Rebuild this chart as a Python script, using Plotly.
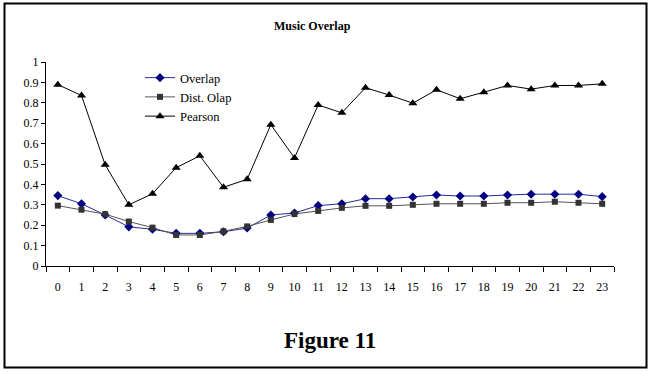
import plotly.graph_objects as go

hours = [str(h) for h in range(24)]

overlap = [0.345, 0.305, 0.25, 0.192, 0.18, 0.16, 0.16, 0.168, 0.186, 0.25, 0.26, 0.296,
           0.305, 0.33, 0.33, 0.338, 0.348, 0.343, 0.343, 0.348, 0.352, 0.352, 0.352, 0.34]
dist_olap = [0.296, 0.276, 0.254, 0.218, 0.188, 0.152, 0.152, 0.17, 0.194, 0.226, 0.255, 0.27,
             0.285, 0.295, 0.295, 0.30, 0.305, 0.305, 0.305, 0.31, 0.31, 0.315, 0.31, 0.305]
pearson = [0.889, 0.836, 0.496, 0.300, 0.354, 0.482, 0.540, 0.386, 0.425, 0.693, 0.530, 0.789,
           0.751, 0.874, 0.838, 0.798, 0.864, 0.820, 0.852, 0.885, 0.867, 0.885, 0.885, 0.893]

y_ticks = [0, 0.1, 0.2, 0.3, 0.4, 0.5, 0.6, 0.7, 0.8, 0.9, 1]
y_ticklabels = ["0", "0.1", "0.2", "0.3", "0.4", "0.5", "0.6", "0.7", "0.8", "0.9", "1"]

FONT = "Liberation Serif"

fig = go.Figure()
fig.add_trace(go.Scatter(x=hours, y=overlap, name="Overlap", mode="lines+markers",
                         line=dict(color="#2a2a99", width=1),
                         marker=dict(symbol="diamond", size=7, color="#000080")))
fig.add_trace(go.Scatter(x=hours, y=dist_olap, name="Dist. Olap", mode="lines+markers",
                         line=dict(color="#555555", width=1),
                         marker=dict(symbol="square", size=6, color="#333333")))
fig.add_trace(go.Scatter(x=hours, y=pearson, name="Pearson", mode="lines+markers",
                         line=dict(color="#000000", width=1),
                         marker=dict(symbol="triangle-up", size=8, color="#000000")))

L, R, T, B = 46, 36, 62, 106
W, H = 650, 372
pw, ph = W - L - R, H - T - B

def px(x):
    return (x - L) / pw

def py(y):
    return (H - B - y) / ph

fig.update_layout(
    width=W, height=H,
    margin=dict(l=L, r=R, t=T, b=B, autoexpand=False),
    paper_bgcolor="white", plot_bgcolor="white",
    font=dict(family=FONT, size=12, color="black"),
    showlegend=True,
    legend=dict(x=px(140), y=py(63), xanchor="left", yanchor="top",
                bgcolor="rgba(0,0,0,0)", font=dict(family=FONT, size=12.5),
                tracegroupgap=0, itemwidth=30),
    xaxis=dict(type="category", range=[-0.5, len(hours) - 0.5], autorange=False,
               showgrid=False, zeroline=False, showline=True,
               linecolor="black", linewidth=1, ticks="outside", ticklen=5,
               tickcolor="black", tickson="boundaries", ticklabelstandoff=10,
               tickfont=dict(family=FONT, size=12), fixedrange=True, automargin=False),
    yaxis=dict(range=[0, 1], autorange=False, tickvals=y_ticks, ticktext=y_ticklabels,
               showgrid=False, zeroline=False, showline=True, linecolor="black", linewidth=1,
               ticks="outside", ticklen=4, tickcolor="black",
               tickfont=dict(family=FONT, size=12), fixedrange=True, automargin=False),
    annotations=[
        dict(text="<b>Music Overlap</b>", xref="paper", yref="paper",
             x=px(312), y=py(26), xanchor="center", yanchor="middle",
             showarrow=False, font=dict(family=FONT, size=12)),
        dict(text="<b>Figure 11</b>", xref="paper", yref="paper",
             x=px(330), y=py(340), xanchor="center", yanchor="middle",
             showarrow=False, font=dict(family=FONT, size=23)),
    ],
    shapes=[
        dict(type="rect", xref="paper", yref="paper",
             x0=px(4.5), x1=px(646.5), y0=py(367.5), y1=py(3.5),
             line=dict(color="black", width=2), fillcolor="rgba(0,0,0,0)", layer="below"),
    ],
)

fig.write_html("out.html", config={"displayModeBar": False},
               post_script="document.body.style.margin='0';")
